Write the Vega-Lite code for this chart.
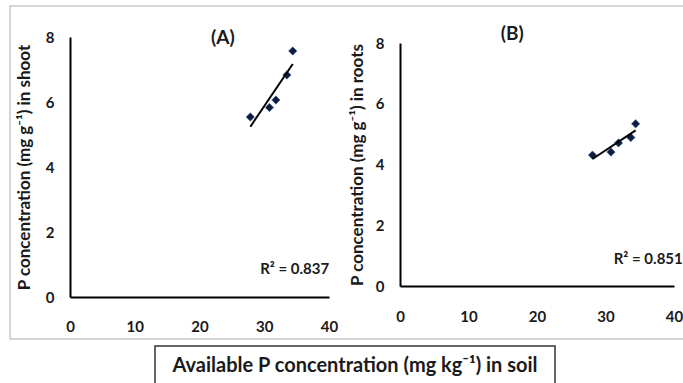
{
  "$schema": "https://vega.github.io/schema/vega-lite/v6.json",
  "padding": {"left": 9, "top": 5, "right": 0, "bottom": 0},
  "background": "white",
  "spacing": 5,
  "config": {"font": "Lato", "view": {"stroke": null}},
  "datasets": {
    "shoot": [
      {"x": 27.85, "y": 5.54},
      {"x": 30.8, "y": 5.83},
      {"x": 31.8, "y": 6.06},
      {"x": 33.5, "y": 6.83},
      {"x": 34.4, "y": 7.57}
    ],
    "roots": [
      {"x": 28.1, "y": 4.31},
      {"x": 30.8, "y": 4.41},
      {"x": 31.9, "y": 4.71},
      {"x": 33.7, "y": 4.89},
      {"x": 34.4, "y": 5.34}
    ],
    "labelsA": [
      {"x": 23.6, "y": 7.97, "t": "(A)"}
    ],
    "r2A": [
      {"x": 34.7, "y": 0.86, "t": "R² = 0.837"}
    ],
    "labelsB": [
      {"x": 16.4, "y": 8.3, "t": "(B)"}
    ],
    "r2B": [
      {"x": 31.2, "y": 0.89, "t": "R² = 0.851"}
    ]
  },
  "vconcat": [
    {
      "width": 674,
      "height": 333,
      "view": {"stroke": "#c8c8c8", "strokeWidth": 1.5},
      "layer": [
        {
          "layer": [
            {
              "data": {"name": "shoot"},
              "mark": {"type": "point", "shape": "diamond", "filled": true, "size": 70, "color": "#0f1c3c", "stroke": "#3a64a8", "strokeWidth": 0.6, "opacity": 1},
              "encoding": {
                "x": {"field": "x", "type": "quantitative",
                  "scale": {"domain": [0, 40], "range": [60, 319], "nice": false, "zero": false},
                  "axis": {"orient": "bottom", "offset": -42, "values": [0, 10, 20, 30, 40], "grid": false, "ticks": false, "domainColor": "black", "domainWidth": 2, "labelPadding": 22, "labelFontSize": 15, "labelFontWeight": "bold", "labelColor": "#1a1a1a", "labelFlush": false, "title": null}},
                "y": {"field": "y", "type": "quantitative",
                  "scale": {"domain": [0, 8], "range": [291, 31], "nice": false, "zero": false},
                  "axis": {"orient": "left", "offset": -60, "values": [0, 2, 4, 6, 8], "grid": false, "ticks": false, "domainColor": "black", "domainWidth": 2, "labelPadding": 16, "labelFontSize": 15, "labelFontWeight": "bold", "labelColor": "#1a1a1a", "labelFlush": false, "title": "P concentration (mg g⁻¹) in shoot", "titleFontSize": 17, "titleFontWeight": "bold", "titleColor": "#1a1a1a", "titlePadding": 12}}
              }
            },
            {
              "data": {"name": "shoot"},
              "transform": [{"regression": "y", "on": "x"}],
              "mark": {"type": "line", "color": "black", "strokeWidth": 2},
              "encoding": {
                "x": {"field": "x", "type": "quantitative"},
                "y": {"field": "y", "type": "quantitative"}
              }
            },
            {
              "data": {"name": "labelsA"},
              "mark": {"type": "text", "fontSize": 19, "fontWeight": "bold", "color": "#1a1a1a", "baseline": "middle", "align": "center"},
              "encoding": {
                "x": {"field": "x", "type": "quantitative"},
                "y": {"field": "y", "type": "quantitative"},
                "text": {"field": "t"}
              }
            },
            {
              "data": {"name": "r2A"},
              "mark": {"type": "text", "fontSize": 15, "fontWeight": "bold", "color": "#1a1a1a", "baseline": "middle", "align": "center"},
              "encoding": {
                "x": {"field": "x", "type": "quantitative"},
                "y": {"field": "y", "type": "quantitative"},
                "text": {"field": "t"}
              }
            }
          ]
        },
        {
          "layer": [
            {
              "data": {"name": "roots"},
              "mark": {"type": "point", "shape": "diamond", "filled": true, "size": 70, "color": "#0f1c3c", "stroke": "#3a64a8", "strokeWidth": 0.6, "opacity": 1},
              "encoding": {
                "x": {"field": "x", "type": "quantitative",
                  "scale": {"domain": [0, 40], "range": [390, 664], "nice": false, "zero": false},
                  "axis": {"orient": "bottom", "offset": -53, "values": [0, 10, 20, 30, 40], "grid": false, "ticks": false, "domainColor": "black", "domainWidth": 2, "labelPadding": 23, "labelFontSize": 15, "labelFontWeight": "bold", "labelColor": "#1a1a1a", "labelFlush": false, "title": null}},
                "y": {"field": "y", "type": "quantitative",
                  "scale": {"domain": [0, 8], "range": [280, 37], "nice": false, "zero": false},
                  "axis": {"orient": "left", "offset": -390, "values": [0, 2, 4, 6, 8], "grid": false, "ticks": false, "domainColor": "black", "domainWidth": 2, "labelPadding": 16, "labelFontSize": 15, "labelFontWeight": "bold", "labelColor": "#1a1a1a", "labelFlush": false, "title": "P concentration (mg g⁻¹) in roots", "titleFontSize": 17, "titleFontWeight": "bold", "titleColor": "#1a1a1a", "titlePadding": 9}}
              }
            },
            {
              "data": {"name": "roots"},
              "transform": [{"regression": "y", "on": "x"}],
              "mark": {"type": "line", "color": "black", "strokeWidth": 2},
              "encoding": {
                "x": {"field": "x", "type": "quantitative"},
                "y": {"field": "y", "type": "quantitative"}
              }
            },
            {
              "data": {"name": "labelsB"},
              "mark": {"type": "text", "fontSize": 19, "fontWeight": "bold", "color": "#1a1a1a", "baseline": "middle", "align": "center"},
              "encoding": {
                "x": {"field": "x", "type": "quantitative"},
                "y": {"field": "y", "type": "quantitative"},
                "text": {"field": "t"}
              }
            },
            {
              "data": {"name": "r2B"},
              "mark": {"type": "text", "fontSize": 15, "fontWeight": "bold", "color": "#1a1a1a", "baseline": "middle", "align": "left"},
              "encoding": {
                "x": {"field": "x", "type": "quantitative"},
                "y": {"field": "y", "type": "quantitative"},
                "text": {"field": "t"}
              }
            }
          ]
        }
      ],
      "resolve": {"scale": {"x": "independent", "y": "independent"}, "axis": {"x": "independent", "y": "independent"}}
    },
    {
      "spacing": 20,
      "hconcat": [
        {
          "width": 124,
          "height": 40,
          "data": {"values": [{"t": ""}]},
          "mark": {"type": "text"},
          "encoding": {"text": {"field": "t"}}
        },
        {
          "width": 400,
          "height": 40,
          "view": {"stroke": "#333333", "strokeWidth": 1.5},
          "data": {"values": [{"t": "Available P concentration (mg kg⁻¹) in soil"}]},
          "mark": {"type": "text", "fontSize": 20, "fontWeight": "bold", "color": "#1a1a1a", "baseline": "middle", "align": "center"},
          "encoding": {"text": {"field": "t"}}
        }
      ]
    }
  ]
}
